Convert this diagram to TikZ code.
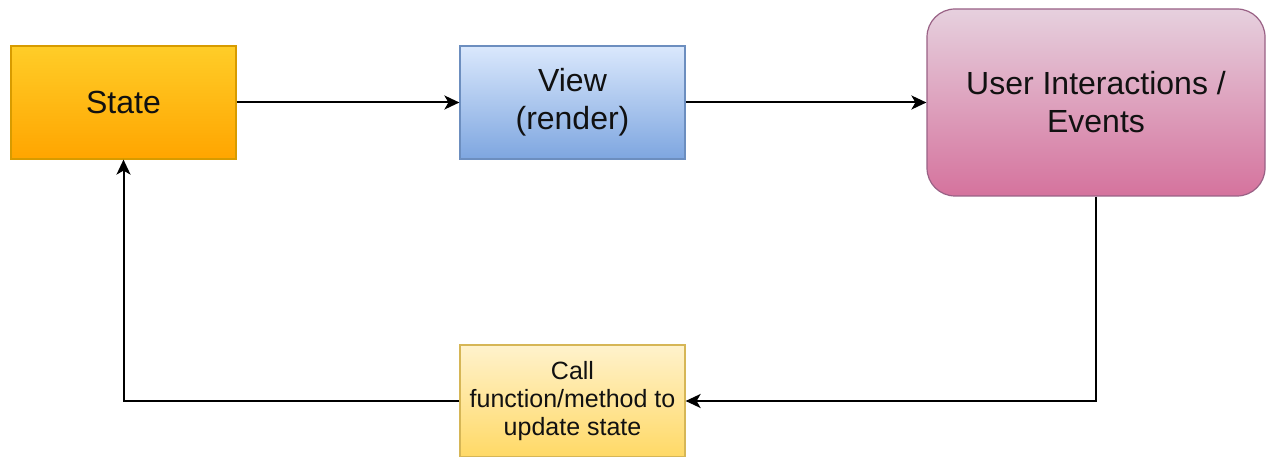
\documentclass[tikz,border=0pt]{standalone}
\usepackage{fontspec}
\setmainfont{Liberation Sans}
\usetikzlibrary{arrows.meta}
\definecolor{stTop}{HTML}{FFCD28}
\definecolor{stBot}{HTML}{FFA500}
\definecolor{stLine}{HTML}{D79B00}
\definecolor{vwTop}{HTML}{DAE8FC}
\definecolor{vwBot}{HTML}{7EA6E0}
\definecolor{vwLine}{HTML}{6C8EBF}
\definecolor{uiTop}{HTML}{E6D0DE}
\definecolor{uiBot}{HTML}{D5739D}
\definecolor{uiLine}{HTML}{996185}
\definecolor{clTop}{HTML}{FFF2CC}
\definecolor{clBot}{HTML}{FFD966}
\definecolor{clLine}{HTML}{D6B656}
\definecolor{txt}{HTML}{111111}
\begin{document}
\begin{tikzpicture}[x=1pt,y=-1pt,
  box/.style={draw, line width=1.2pt, minimum width=225pt, minimum height=113pt,
    align=center, inner sep=0pt, text=txt, font=\fontsize{32}{38}\selectfont},
  conn/.style={line width=2pt, black, -{Stealth[length=15pt,width=14pt,inset=4pt]}}]
\useasboundingbox (0,0) rectangle (1268,457);
\node[box, top color=stTop, bottom color=stBot, draw=stLine] (state) at (123.5,102.5) {State};
\node[box, top color=vwTop, bottom color=vwBot, draw=vwLine] (view) at (572.5,102.5) {View\\(render)};
\node[box, minimum width=338pt, minimum height=187pt, rounded corners=28pt,
  top color=uiTop, bottom color=uiBot, draw=uiLine] (ui) at (1096,102.5) {User Interactions /\\Events};
\node[box, minimum height=112pt, font=\fontsize{25}{28}\selectfont,
  top color=clTop, bottom color=clBot, draw=clLine] (call) at (572.5,401) {Call\\function/method to\\update state};
\draw[conn] (state.east) -- (view.west);
\draw[conn] (view.east) -- (ui.west);
\draw[conn] (ui.south) |- (call.east);
\draw[conn] (call.west) -| (state.south);
\end{tikzpicture}
\end{document}
